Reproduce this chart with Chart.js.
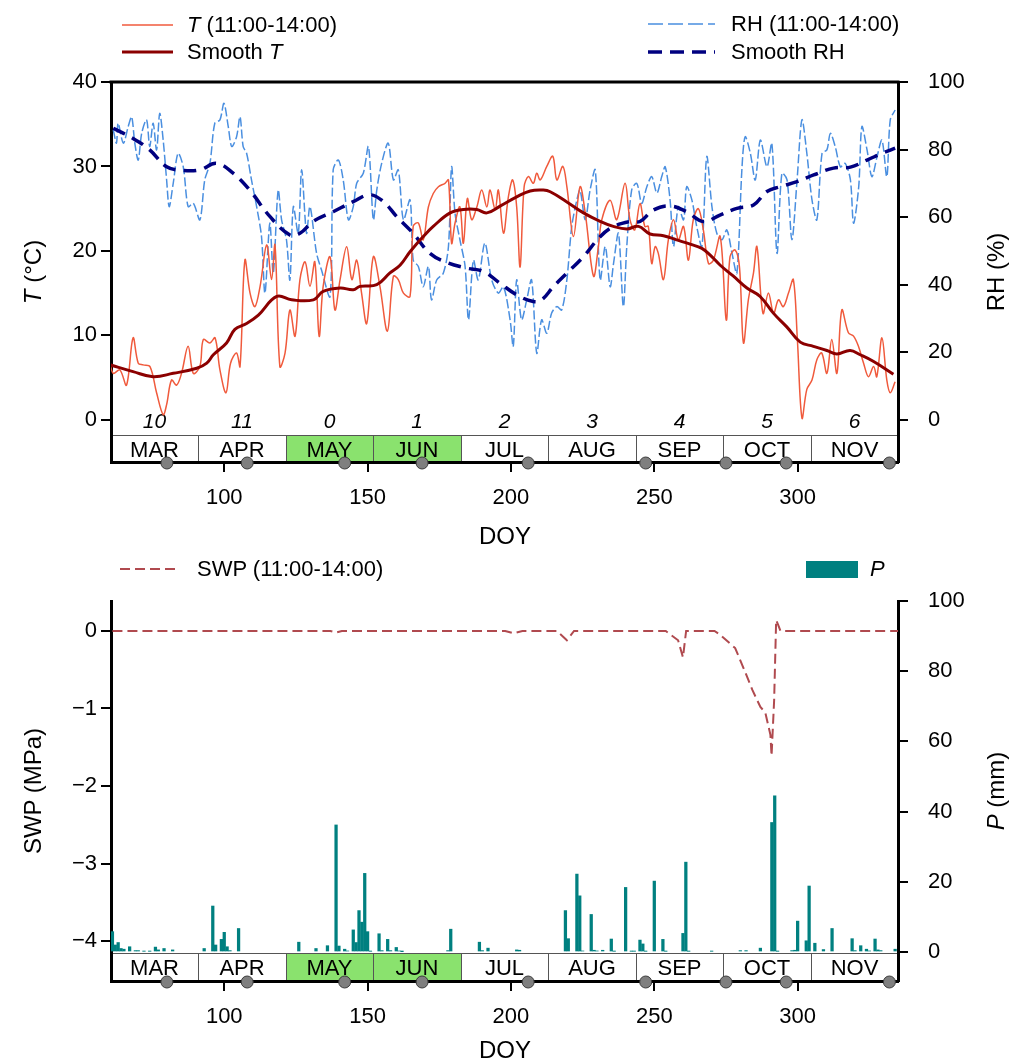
<!DOCTYPE html>
<html><head><meta charset="utf-8">
<script src="https://cdn.jsdelivr.net/npm/chart.js@4.4.1/dist/chart.umd.min.js"></script>
<style>
html,body{margin:0;padding:0;background:#fff;}
#wrap{position:relative;width:1014px;height:1064px;font-family:'Liberation Sans',Arial,sans-serif;color:#000;overflow:hidden;background:#fff}
canvas{position:absolute;left:0}
#c1{top:0}
#c2{top:545px}
.t{position:absolute;white-space:nowrap;font-size:22px;line-height:26px}
.ttl{position:absolute;white-space:nowrap;font-size:24px;line-height:28px}
.rot{transform:translate(-50%,-50%) rotate(-90deg)}
.ctr{transform:translate(-50%,-50%)}
svg{position:absolute;left:0;top:0}
</style></head>
<body>
<div id="wrap">
<canvas id="c1" width="1014" height="545"></canvas>
<canvas id="c2" width="1014" height="519"></canvas>
<svg width="1014" height="1064">
  <line x1="122" y1="25" x2="173" y2="25" stroke="#f05a3c" stroke-width="1.5"/>
  <line x1="122" y1="52" x2="173" y2="52" stroke="#8b0000" stroke-width="3"/>
  <line x1="648" y1="24" x2="715" y2="24" stroke="#4a8fe0" stroke-width="1.5" stroke-dasharray="15,5"/>
  <line x1="648" y1="52" x2="715" y2="52" stroke="#000080" stroke-width="3.5" stroke-dasharray="14,8"/>
  <line x1="120" y1="569" x2="180" y2="569" stroke="#b04a4f" stroke-width="2" stroke-dasharray="10,5"/>
  <rect x="806" y="561" width="52" height="17" fill="#008080"/>
</svg>
<div class="t" style="left:187px;top:12px"><i>T</i> (11:00-14:00)</div>
<div class="t" style="left:187px;top:39px">Smooth <i>T</i></div>
<div class="t" style="left:731px;top:11px">RH (11:00-14:00)</div>
<div class="t" style="left:731px;top:39px">Smooth RH</div>
<div class="t" style="left:197px;top:556px">SWP (11:00-14:00)</div>
<div class="t" style="left:870px;top:556px"><i>P</i></div>
<div class="ttl rot" style="left:33px;top:272px"><i>T</i> (°C)</div>
<div class="ttl rot" style="left:996px;top:272px">RH (%)</div>
<div class="ttl ctr" style="left:505px;top:536px">DOY</div>
<div class="ttl rot" style="left:33px;top:791px">SWP (MPa)</div>
<div class="ttl rot" style="left:996px;top:791px"><i>P</i> (mm)</div>
<div class="ttl ctr" style="left:505px;top:1050px">DOY</div>
</div>
<script>
// ---------- DATA ----------
const monthNames = ['MAR','APR','MAY','JUN','JUL','AUG','SEP','OCT','NOV'];
const monthNums = ['10','11','0','1','2','3','4','5','6'];
const monthGreen = [false,false,true,true,false,false,false,false,false];
const monthEdges = [60.5,91,121.5,152,182.5,213,243.5,274,304.5,335];
const dotDoy = [80,108,142,169,206,247,275,296,332];
const xTicks = [100,150,200,250,300];
const tTicks = [0,10,20,30,40];
const rhTicks = [0,20,40,60,80,100];
const swpTicks = [0,-1,-2,-3,-4];
const pTicks = [0,20,40,60,80,100];

const tDoy = [60.1,61.3,63.6,65.9,68.2,70,71.7,74.1,76.4,78.7,79.9,81.6,83.4,85.1,87.4,89.2,91.5,92.7,95,96.8,98.5,100.6,102.2,104.3,105.5,107.2,109,110.7,112.5,114.8,116.5,117.7,119.4,121.2,122.9,124.7,126.4,128.2,129.9,131.6,133.1,134.5,136.9,138.6,140.4,142.7,144.5,146.2,147.9,149.7,152,154.3,156.9,159,160.7,162.5,164.8,165.9,167.7,169.4,171.2,172.9,174.7,177,178.2,179.3,180.5,182.2,183.4,184.8,186.3,188.1,189.8,191.6,192.7,194.5,195.6,197.4,199.1,200.6,202,203.2,204.6,206.1,207.8,209,210.2,212.5,214.6,216,218.1,219.5,221.8,224.1,225.9,228.8,230.5,231.7,234.6,236.9,239.8,241.5,243.2,245,246.7,247.9,249.1,250.3,251.4,253.2,254.9,256.7,258.4,260.2,261.9,263.6,265.4,267.1,268.9,270.6,273,275.1,276.4,278.2,279.7,281.1,282.8,284.6,285.8,287.9,289.8,291.6,293.3,295,296.8,298.5,299.9,301.5,303.2,305,306.7,308.4,310.2,311.9,313.7,315.4,317.7,319.5,321.2,323,324.7,326.5,327.6,329.4,331.1,332.3,334];
const tVal = [6.7,5.5,5.9,4.1,9.7,6.7,6.5,6.3,3.2,0.6,1.8,4.7,4.1,5.5,8.7,5.5,6.3,9.5,9.1,9.7,5.9,3.2,6.7,7.9,6.3,18.9,15,13.4,15.8,20.7,16.6,20.7,6.3,7.9,13,9.9,16.6,18.7,15.8,18.7,9.9,15.8,19.3,13,16.6,20.5,16.6,18.9,15,11.4,19.3,15.8,10.5,17,16.6,15,14.6,22.9,23.3,21.3,25.2,26.8,27.6,28,28.4,20.9,23.3,25.2,20.9,26.2,23.7,25.2,27.2,25.2,27.2,24.9,27.2,22.1,26.4,28.4,25.2,18.1,27.6,28.8,28,29.2,28.4,30,31.2,28.4,30,27.6,21.7,27.6,24.5,17,20.5,23.7,26,23.7,28,23.7,22.5,25.6,22.9,22.9,18.5,20.5,19.7,16.6,21.3,23.7,21.3,22.9,18.9,23.7,25,22.5,18.5,18.9,21.7,11.8,19.3,20.1,18.1,9.1,14.2,17.4,20.5,12.6,15,12.6,14.2,13.4,15,16.6,9.5,0.2,3.6,4.7,7.1,7.9,5.5,9.5,5.5,13,10.3,9.9,8.7,6.7,5.1,6.3,5.1,9.7,4.7,3.2,4.5];

const tsDoy = [60.2,68.2,75.2,82.2,90.4,93.9,96.2,100.8,103.7,107.8,111.9,118.3,123.5,131.1,134.5,140.4,145,147.3,153.2,157.8,161.3,164.8,169.4,172.9,178.8,183.4,188.1,191.6,196.2,202,206.7,211.3,213.7,219.5,225.3,231.1,235.7,240.4,244.5,248.5,253.2,257.8,262.5,266.6,269.5,273,277.6,282.3,286.9,291.6,296.2,300.9,305.5,310.2,313.7,318.3,321.8,326.5,333.4];
const tsVal = [6.5,5.7,5.1,5.5,6.1,6.7,7.7,9.1,10.7,11.4,12.4,14.6,14.2,14.2,15.2,15.6,15.4,15.8,16.0,17.4,18.3,19.9,21.7,22.9,24.5,24.9,24.9,24.5,25.3,26.4,27.1,27.2,27.0,25.8,24.5,23.5,22.9,22.6,22.9,22.0,21.8,21.3,20.8,20.3,19.5,18.3,17.0,15.6,14.6,12.6,11.0,9.2,8.7,8.2,7.8,8.2,7.7,6.9,5.4];

const rhDoy = [61.3,62.4,63,64.8,66.5,67.7,68.8,70,71.2,72.9,74,75.2,76.4,77.5,78.7,79.9,80.8,82.2,83.9,85.7,87.4,89.2,91.5,93.2,95,96.7,98.5,99.9,101.4,102.6,104.3,105.5,106.6,107.8,109.5,111.3,113,114.2,115.9,117.1,118.8,120,121.7,122.9,124.1,125.8,127,128.7,129.9,132.2,133.9,136.9,138,139.8,141.5,143.3,145,146.2,148.5,150.3,152,153.2,154.9,157.2,159,160.7,162.5,164.8,165.9,167.7,169.4,171.2,172.3,174.1,176.4,178.2,179.3,180.5,182.2,184,185.2,186.9,188.6,190.9,193.3,195.6,197.4,199.7,200.8,202,203.7,205.5,207.2,209,210.7,212.5,214.2,216,217.7,219.5,221.2,223,224.1,225.9,227.6,229.4,231.1,232.9,234.6,235.8,237.5,239.2,240.4,242.1,243.9,245.6,247.4,249.1,250.9,252.6,253.8,255.5,256.7,258.4,260.2,261.3,263.1,264.8,266.6,268.3,270.1,271.8,273.6,275.3,277.1,278.8,280.6,281.7,283.5,285.2,287,289.3,291,292.8,294.5,296.3,298,299.8,301.5,303.2,305,306.7,308.5,310.2,311.4,313.1,314.9,316.6,318.4,319.5,321.3,322.4,324.2,325.9,327.7,329.4,331.1,332.3,334];
const rhVal = [85.8,81.9,87.8,81.9,86.8,89.7,81.9,76.9,84.8,88.8,80.9,87.8,79.9,90.7,82.8,71,63.1,70,78.9,74.9,63.1,64.1,59.2,71,75.9,87.8,88.8,93.7,86.8,80.9,83.8,89.7,80.9,78.9,71,63.1,54.2,37.5,58.2,43.4,68,59.2,53.3,41.4,63.1,55.2,74,55.2,63.1,49.3,44.4,36.5,74,76.9,71,59.2,63.1,70,73,80.9,59.2,68,75.9,81.9,71,74,59.2,65.1,47.3,45.4,39.4,45.4,35.5,41.4,43.4,51.3,74.9,61.1,53.3,45.4,29.6,47.3,41.4,52.3,41.4,37.5,39.4,29.6,21.7,41.4,29.6,35.5,41.4,19.7,29.6,25.6,31.6,33.5,32.5,41.4,57.2,65.1,68,59.2,68,74,41.4,51.3,39.4,46.4,55.2,33.5,51.3,68,70,64.1,69,72,67.1,72,74.9,65.1,51.3,63.1,59.2,69,65.1,57.2,51.3,77.9,63.1,55.2,53.3,56.2,49.3,43.4,74.9,83.8,78.9,71,82.8,74.9,81.9,49.3,73,71,53.3,71,88.8,78.9,65.1,59.2,78.9,79.9,84.8,80.9,74.9,75.9,71,58.2,69,86.8,79.9,72,77.9,82.8,72,88.8,91.7];

const rhsDoy = [61.3,68.2,74,79.9,85.7,91.5,97.3,103.1,108.9,115.9,122.9,126.4,131,138,145,150.8,155.5,160.1,165.9,171.7,177.6,184.5,190.4,196.2,202,207.8,210.7,214.8,219.5,225.3,231.1,235.8,241.6,245,249.7,255.5,261.3,267.1,272.9,278.8,284.6,289.3,293.9,299.8,305.6,312.5,318.4,324.2,330,334];
const rhsVal = [86.3,83.3,79.9,74.9,73.8,74,75.9,73,68,60.2,54.7,55.2,58.7,61.6,64.6,66.6,64.6,60.2,55.2,49.3,46.6,44.9,43.9,40.4,37,35,35.5,39.4,43.4,48.3,54.2,57.2,58.7,58.7,62.1,63.3,61.6,58.7,60.6,62.6,63.6,67.6,69,70.5,72.5,74.5,74.8,76.9,79.1,80.4];

const swpDoy = [61,100,137,139,141,198,201,204,216,219.5,222,254,258.3,260,261.1,271,273,278.2,281.7,284.2,287,288.7,290.5,290.9,291.8,292.5,293.2,294,335];
const swpVal = [0,0,0,-0.02,0,0,-0.03,0,0,-0.12,0,0,-0.12,-0.34,0,0,-0.05,-0.22,-0.53,-0.76,-0.98,-1.05,-1.34,-1.61,-0.89,0.14,0.08,0,0];

const pDoy = [61,62,63,64,65,67,69,70,72,74,76,77,79,82,93,96,97,99,100,101,102,105,126,132,136,139,140,142,143,145,146,147,148,149,150,151,154,155,157,158,160,161,162,178,179,189,190,192,202,203,219,220,223,224,225,228,229,230,232,235,236,240,242,243,245,246,247,250,253,254,260,261,262,270,280,282,287,291,292,293,298,299,300,303,304,306,309,312,319,320,322,324,325,327,328,329,334];
const pVal = [5.8,2,2.7,1,0.8,1.5,0.4,0.4,0.2,0.2,1.4,0.6,1,0.6,1,13.1,2,3.6,5.6,1.5,0.4,6.7,2.8,1,1.8,36.2,1.7,0.8,0.3,6.3,2.7,11.8,8.5,22.4,5.8,0.2,5.2,0.4,3.6,0.4,1.3,0.3,0.1,0.4,6.5,2.8,0.4,1.1,0.6,0.5,11.8,3.8,22.2,16,0.3,10.7,0.5,0.3,0.5,3.7,0.2,18.4,0.2,0.2,3.4,2.3,0.2,20.2,3.6,0.2,5.3,25.6,0.2,0.2,0.4,0.4,1.1,36.9,44.5,0.2,0.4,0.5,8.8,3.2,18.8,2.5,0.7,6.7,3.8,0.4,1.8,0.8,0.3,3.7,0.6,0.4,0.8];

// ---------- HELPERS ----------
const FONT = "'Liberation Sans', Arial, sans-serif";
Chart.defaults.font.family = FONT;
Chart.defaults.color = '#000';
const pts = (xs, ys) => xs.map((x, i) => ({x: x, y: ys[i]}));
const fixed = arr => function(s){ s.ticks = arr.map(v => ({value: v})); };
const minus = v => (v < 0 ? '\u2212' + Math.abs(v) : '' + v);

function axisY(pos, min, max, ticks, width, pad, cb){
  return {
    type: 'linear', position: pos, min: min, max: max,
    afterBuildTicks: fixed(ticks),
    afterFit: s => { s.width = width; },
    grid: {drawOnChartArea: false, drawTicks: true, tickLength: 10, color: '#000', lineWidth: 2},
    border: {display: true, color: '#000', width: 3},
    ticks: {font: {size: 22}, color: '#000', padding: pad, callback: cb || (v => '' + v)}
  };
}
function axisX(){
  return {
    type: 'linear', position: 'bottom', min: 60.5, max: 335, offset: false,
    afterBuildTicks: fixed(xTicks),
    afterFit: s => { s.height = 83; },
    grid: {drawOnChartArea: false, drawTicks: true, tickLength: 10, color: '#000', lineWidth: 2, offset: false},
    border: {display: true, color: '#000', width: 3},
    ticks: {font: {size: 22}, color: '#000', padding: 13, maxRotation: 0, autoSkip: false}
  };
}

function bandPlugin(cfg){
  return {
    id: 'band' + cfg.name,
    beforeDraw(chart){
      const ctx = chart.ctx, a = chart.chartArea, xs = chart.scales.x, ys = chart.scales[cfg.axis];
      const yTop = Math.round(ys.getPixelForValue(cfg.bandTop)), yBot = a.bottom;
      ctx.save();
      for (let i = 0; i < monthNames.length; i++){
        const x0 = Math.round(xs.getPixelForValue(monthEdges[i]));
        const x1 = Math.round(xs.getPixelForValue(monthEdges[i + 1]));
        if (monthGreen[i]){ ctx.fillStyle = '#8ae26e'; ctx.fillRect(x0, yTop, x1 - x0, yBot - yTop); }
        ctx.strokeStyle = '#555'; ctx.lineWidth = 1;
        ctx.strokeRect(x0 + 0.5, yTop + 0.5, x1 - x0, yBot - yTop);
        ctx.fillStyle = '#000'; ctx.textAlign = 'center'; ctx.textBaseline = 'middle';
        ctx.font = '22px ' + FONT;
        ctx.fillText(monthNames[i], (x0 + x1) / 2, (yTop + yBot) / 2 + 2);
        if (cfg.nums){
          ctx.font = 'italic 21px ' + FONT;
          ctx.fillText(monthNums[i], (x0 + x1) / 2, yTop - 13);
        }
      }
      ctx.restore();
    },
    afterDraw(chart){
      const ctx = chart.ctx, a = chart.chartArea, xs = chart.scales.x;
      ctx.save();
      if (cfg.topBorder){
        ctx.strokeStyle = '#000'; ctx.lineWidth = 3;
        ctx.beginPath(); ctx.moveTo(a.left - 1.5, a.top); ctx.lineTo(a.right + 1.5, a.top); ctx.stroke();
      }
      dotDoy.forEach(d => {
        const x = xs.getPixelForValue(d);
        ctx.beginPath(); ctx.arc(x, a.bottom + 1, 6, 0, Math.PI * 2);
        ctx.fillStyle = '#7f7f7f'; ctx.fill();
        ctx.strokeStyle = '#3a3a3a'; ctx.lineWidth = 1; ctx.stroke();
      });
      ctx.restore();
    }
  };
}

// ---------- TOP CHART ----------
new Chart(document.getElementById('c1'), {
  type: 'line',
  data: {
    datasets: [
      {label: 'Smooth T', data: pts(tsDoy, tsVal), yAxisID: 'y', borderColor: '#8b0000', borderWidth: 3, pointRadius: 0, tension: 0.4, order: 0},
      {label: 'Smooth RH', data: pts(rhsDoy, rhsVal), yAxisID: 'y2', borderColor: '#000080', borderWidth: 3.5, borderDash: [13, 8], pointRadius: 0, tension: 0.4, order: 1},
      {label: 'T (11:00-14:00)', data: pts(tDoy, tVal), yAxisID: 'y', borderColor: '#f05a3c', borderWidth: 1.5, pointRadius: 0, tension: 0.35, order: 2},
      {label: 'RH (11:00-14:00)', data: pts(rhDoy, rhVal), yAxisID: 'y2', borderColor: '#4a8fe0', borderWidth: 1.5, borderDash: [9, 3], pointRadius: 0, tension: 0.3, order: 3}
    ]
  },
  options: {
    responsive: false, animation: false, devicePixelRatio: 1,
    layout: {padding: {top: 82, left: 0, right: 0, bottom: 0}},
    plugins: {legend: {display: false}, tooltip: {enabled: false}},
    scales: {
      x: axisX(),
      y: axisY('left', -5, 40, tTicks, 111, 4),
      y2: axisY('right', -12.5, 100, rhTicks, 116, 20)
    }
  },
  plugins: [bandPlugin({name: 'top', axis: 'y', bandTop: -1.8, nums: true, topBorder: true})]
});

// ---------- BOTTOM CHART ----------
new Chart(document.getElementById('c2'), {
  type: 'line',
  data: {
    datasets: [
      {label: 'SWP (11:00-14:00)', data: pts(swpDoy, swpVal), yAxisID: 'y', borderColor: '#b04a4f', borderWidth: 2, borderDash: [10, 5], pointRadius: 0, tension: 0, order: 0},
      {type: 'bar', label: 'P', data: pts(pDoy, pVal), yAxisID: 'y2', backgroundColor: '#008080', borderWidth: 0, barThickness: 2.6, order: 1}
    ]
  },
  options: {
    responsive: false, animation: false, devicePixelRatio: 1,
    layout: {padding: {top: 56, left: 0, right: 0, bottom: 0}},
    plugins: {legend: {display: false}, tooltip: {enabled: false}},
    scales: {
      x: axisX(),
      y: axisY('left', -4.516, 0.387, swpTicks, 111, 4, minus),
      y2: axisY('right', -8.26, 100, pTicks, 116, 20)
    }
  },
  plugins: [bandPlugin({name: 'bot', axis: 'y2', bandTop: -0.2, nums: false, topBorder: false})]
});
</script>
</body></html>
